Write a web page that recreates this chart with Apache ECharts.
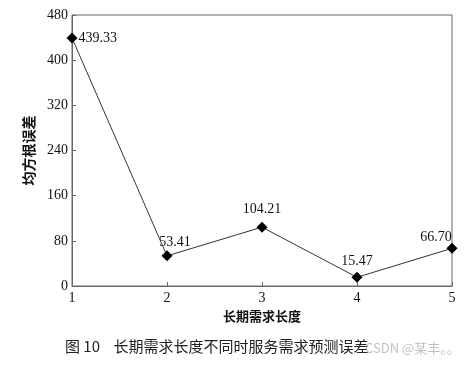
<!DOCTYPE html>
<html><head><meta charset="utf-8">
<script src="https://cdn.jsdelivr.net/npm/echarts@6/dist/echarts.min.js"></script>
<style>html,body{margin:0;padding:0;background:#fff}#c{width:470px;height:366px}</style>
</head><body><div id="c"></div>
<script>
const categories = [1, 2, 3, 4, 5];
const values = [439.33, 53.41, 104.21, 15.47, 66.70];
const labels = ['439.33', '53.41', '104.21', '15.47', '66.70'];
const yTicks = [0, 80, 160, 240, 320, 400, 480];
const labelPos = ['right', 'top', 'top', 'top', 'top'];
const labelOff = [[-2, 0], [8, 2], [0, -2], [0, 0], [-16, 4]];

const chart = echarts.init(document.getElementById('c'));
const font = '"Liberation Serif","DejaVu Serif",serif';
chart.setOption({
  animation: false,
  grid: { left: 72, right: 18, top: 15, bottom: 80, show: true, borderColor: '#666', borderWidth: 1 },
  xAxis: {
    type: 'value', min: 1, max: 5, interval: 1,
    name: '长期需求长度', nameLocation: 'middle', nameGap: 23,
    nameTextStyle: { fontFamily: '"Noto Sans CJK SC"', fontWeight: 'bold', fontSize: 13, color: '#111' },
    axisLine: { lineStyle: { color: '#666' } },
    axisTick: { inside: true, length: 4, lineStyle: { color: '#666' } },
    axisLabel: { fontFamily: font, fontSize: 14, color: '#111', margin: 5 },
    splitLine: { show: false }
  },
  yAxis: {
    type: 'value', min: 0, max: 480, interval: 80,
    name: '均方根误差', nameLocation: 'middle', nameGap: 30, nameRotate: 90,
    nameTextStyle: { fontFamily: '"Noto Sans CJK SC"', fontWeight: 'bold', fontSize: 14, color: '#111' },
    axisLine: { show: true, lineStyle: { color: '#666' } },
    axisTick: { show: true, inside: true, length: 4, lineStyle: { color: '#666' } },
    axisLabel: { fontFamily: font, fontSize: 14, color: '#111', margin: 4 },
    splitLine: { show: false }
  },
  series: [{
    type: 'line',
    data: categories.map((c, i) => ({
      value: [c, values[i]],
      label: { show: true, position: labelPos[i], offset: labelOff[i], formatter: labels[i] }
    })),
    symbol: 'diamond', symbolSize: 11,
    itemStyle: { color: '#000' },
    lineStyle: { color: '#333', width: 1 },
    label: { fontFamily: font, fontSize: 14, color: '#111', distance: 3 },
    clip: false
  }],
  graphic: [
    { type: 'text', left: 65, top: 339, style: { text: '图 10    长期需求长度不同时服务需求预测误差', font: '15px "Noto Sans CJK SC"', fill: '#222' } },
    { type: 'text', left: 365, top: 342, style: { text: 'CSDN @某丰。。', font: '13px "Noto Sans CJK SC"', fill: 'rgba(150,150,150,0.6)' } }
  ]
});
</script></body></html>
